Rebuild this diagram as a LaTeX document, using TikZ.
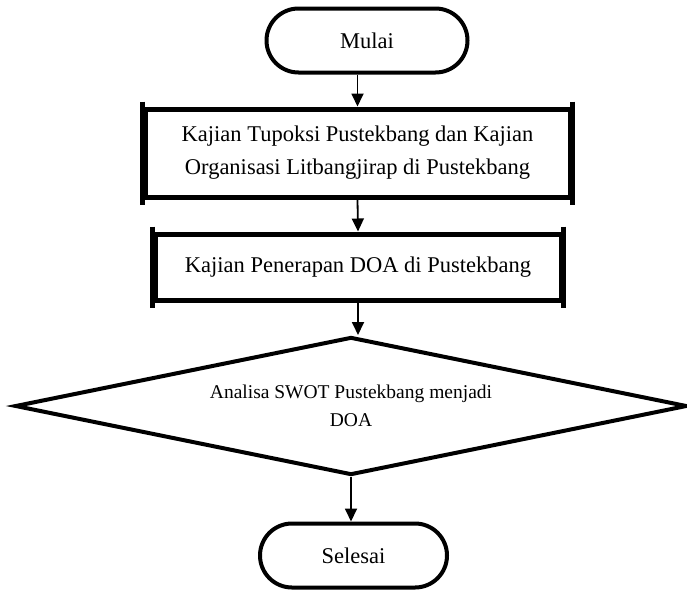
\documentclass[tikz,border=0pt]{standalone}
\usepackage{fontspec}
\setmainfont{Liberation Serif}
\usetikzlibrary{shapes.geometric,shapes.misc,arrows.meta}

\begin{document}
\begin{tikzpicture}[x=1pt,y=-1pt,
        terminal/.style={rounded rectangle,draw,line width=4pt,minimum width=#1,minimum height=64pt,inner sep=0pt,font=\fontsize{22.5}{33}\selectfont},
        process/.style={rectangle,draw,line width=5pt,inner sep=0pt,align=center,font=\fontsize{22.5}{33}\selectfont},
        decision/.style={diamond,draw,line width=4pt,inner sep=0pt,aspect=4.87,align=center,font=\fontsize{19.5}{28}\selectfont},
        flow/.style={line width=1.8pt,-{Triangle[width=12pt,length=13pt]}}]
        \useasboundingbox (0,0) rectangle (687,589);
        \node[terminal=201pt] (mulai) at (367,40.5) {Mulai};
        \node[process,minimum width=425pt,minimum height=88pt] (kajian1) at (357.5,153) {Kajian Tupoksi Pustekbang dan Kajian\\Organisasi Litbangjirap di Pustekbang};
        \node[process,minimum width=406pt,minimum height=66pt] (kajian2) at (358,267) {Kajian Penerapan DOA di Pustekbang};
        \node[decision,minimum width=672pt,minimum height=138pt] (swot) at (351,406) {Analisa SWOT Pustekbang menjadi\\DOA};
        \node[terminal=187pt] (selesai) at (353.5,555.5) {Selesai};
        \foreach \n in {kajian1,kajian2} {
            \draw[line width=5pt] ([yshift=5pt]\n.north west) -- ([yshift=-5pt]\n.south west);
            \draw[line width=5pt] ([yshift=5pt]\n.north east) -- ([yshift=-5pt]\n.south east);
        }
        \draw[flow] (mulai.south -| kajian1) -- (kajian1.north);
        \draw[flow] (kajian1.south) -- (kajian2.north);
        \draw[flow] (kajian2.south) -- (kajian2.south |- swot.north);
        \draw[flow] (swot.south) -- (swot.south |- selesai.north);
    \end{tikzpicture}
\end{document}
